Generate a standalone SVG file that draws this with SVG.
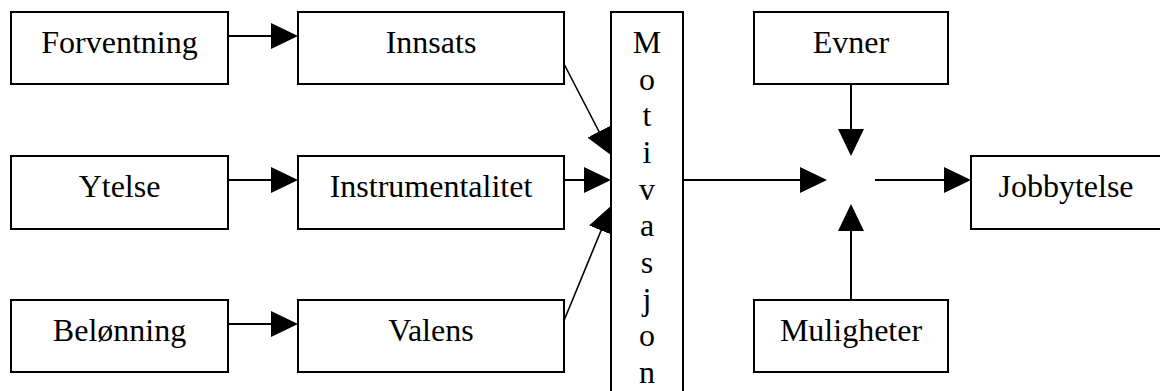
<svg xmlns="http://www.w3.org/2000/svg" width="1160" height="391" viewBox="0 0 1160 391">
  <style>
    .box { fill: #fff; stroke: #000; stroke-width: 2; }
    .lbl { font-family: "Liberation Serif", "Times New Roman", serif; font-size: 32px; fill: #000; text-anchor: middle; }
    .link { stroke: #000; stroke-width: 2; fill: none; marker-end: url(#head); }
    .thin { stroke-width: 1.6; }
  </style>
  <defs>
    <marker id="head" viewBox="0 -13 27 26" refX="1" refY="0" markerWidth="27" markerHeight="26" markerUnits="userSpaceOnUse" orient="auto">
      <path d="M0,-13 L27,0 L0,13 z" fill="#000"/>
    </marker>
  </defs>
  <rect width="1160" height="391" fill="#fff"/>

  <!-- connectors -->
  <g id="connectors">
    <line class="link" x1="228" y1="36" x2="272" y2="36"/>
    <line class="link" x1="228" y1="180" x2="272" y2="180"/>
    <line class="link" x1="228" y1="324" x2="272" y2="324"/>
    <line class="link thin" x1="563" y1="62" x2="599.5" y2="132.5"/>
    <line class="link" x1="564" y1="180" x2="585" y2="180"/>
    <line class="link thin" x1="563" y1="323" x2="601.5" y2="229.5"/>
    <line class="link" x1="683" y1="180" x2="801" y2="180"/>
    <line class="link" x1="875" y1="180" x2="945" y2="180"/>
    <line class="link" x1="851" y1="84" x2="851" y2="130"/>
    <line class="link" x1="851" y1="300" x2="851" y2="230"/>
  </g>

  <!-- left column -->
  <g id="forventning">
    <rect class="box" x="11" y="12" width="217" height="72"/>
    <text class="lbl" x="119.5" y="53">Forventning</text>
  </g>
  <g id="ytelse">
    <rect class="box" x="11" y="156" width="217" height="73"/>
    <text class="lbl" x="119.5" y="197">Ytelse</text>
  </g>
  <g id="belonning">
    <rect class="box" x="11" y="300" width="217" height="72"/>
    <text class="lbl" x="119.5" y="341">Belønning</text>
  </g>

  <!-- middle column -->
  <g id="innsats">
    <rect class="box" x="298" y="12" width="266" height="72"/>
    <text class="lbl" x="431" y="53">Innsats</text>
  </g>
  <g id="instrumentalitet">
    <rect class="box" x="298" y="156" width="266" height="73"/>
    <text class="lbl" x="431" y="197">Instrumentalitet</text>
  </g>
  <g id="valens">
    <rect class="box" x="298" y="300" width="266" height="72"/>
    <text class="lbl" x="431" y="341">Valens</text>
  </g>

  <!-- vertical motivation bar, running off the bottom edge -->
  <g id="motivasjon">
    <rect class="box" x="611" y="12" width="72" height="395"/>
    <text class="lbl" x="647" y="53">M</text>
    <text class="lbl" x="647" y="90">o</text>
    <text class="lbl" x="647" y="126">t</text>
    <text class="lbl" x="647" y="163">i</text>
    <text class="lbl" x="647" y="200">v</text>
    <text class="lbl" x="647" y="236">a</text>
    <text class="lbl" x="647" y="273">s</text>
    <text class="lbl" x="647" y="310">j</text>
    <text class="lbl" x="647" y="346">o</text>
    <text class="lbl" x="647" y="383">n</text>
  </g>

  <!-- right side -->
  <g id="evner">
    <rect class="box" x="754" y="12" width="194" height="72"/>
    <text class="lbl" x="851" y="53">Evner</text>
  </g>
  <g id="muligheter">
    <rect class="box" x="754" y="300" width="194" height="72"/>
    <text class="lbl" x="851" y="341">Muligheter</text>
  </g>
  <g id="jobbytelse">
    <rect class="box" x="971" y="156" width="200" height="73"/>
    <text class="lbl" x="1066" y="197">Jobbytelse</text>
  </g>
</svg>
